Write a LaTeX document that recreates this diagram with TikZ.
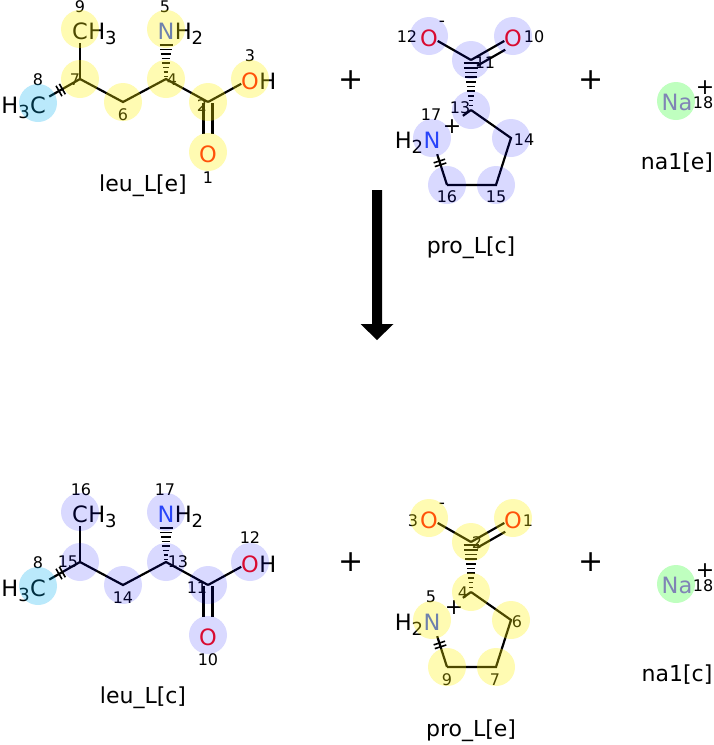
\documentclass[tikz,border=0pt]{standalone}
\usepackage{fontspec}
\setmainfont{DejaVu Sans}
\usetikzlibrary{calc}
\definecolor{Ocol}{HTML}{FF0D0D}
\definecolor{Ncol}{HTML}{3050F8}
\definecolor{Nacol}{HTML}{AB5CF2}
\newcommand\sbs[1]{\raisebox{-5pt}{\fontsize{18}{18}\selectfont #1}}
\tikzset{
  bond/.style={line width=2.2pt},
  hashl/.style={line width=1.6pt},
  atomt/.style={inner sep=0pt, font=\fontsize{22.5}{22.5}\selectfont},
  numt/.style={inner sep=0pt, font=\fontsize{16}{16}\selectfont},
  namet/.style={inner sep=0pt, font=\fontsize{22}{22}\selectfont},
  plust/.style={inner sep=0pt, font=\fontsize{30}{30}\selectfont},
  chgp/.style={inner sep=0pt, font=\fontsize{22}{22}\selectfont},
  chgm/.style={inner sep=0pt, font=\fontsize{17}{17}\selectfont},
  hly/.style={fill=yellow, fill opacity=0.3},
  hlb/.style={fill=blue, fill opacity=0.15},
  hlc/.style={fill=cyan, fill opacity=0.27},
  hlg/.style={fill=green, fill opacity=0.25},
}
\begin{document}
\begin{tikzpicture}[x=1pt,y=-1pt]
\useasboundingbox (0,0) rectangle (714,745);

% ================= TOP: leu_L[e] =================
\coordinate (L1) at (208,152);
\coordinate (L2) at (208,102);
\coordinate (L3) at (250,79);
\coordinate (L4) at (166,79);
\coordinate (L5) at (166,29);
\coordinate (L6) at (123,102);
\coordinate (L7) at (80,79);
\coordinate (L8) at (38,103);
\coordinate (L9) at (80,29);
\draw[bond] (L7) -- (L6) -- (L4) -- (L2);
\draw[bond, shorten >=14pt] (L7) -- (L9);
\draw[bond, shorten >=10pt] (L2) -- (L3);
\draw[bond, shorten <=13pt] (L8) -- (L7);
\draw[bond, shorten >=18pt, shorten <=1pt] ($(L2)+(-4.5,0)$) -- ($(L1)+(-4.5,0)$);
\draw[bond, shorten >=18pt, shorten <=1pt] ($(L2)+(4.5,0)$) -- ($(L1)+(4.5,0)$);
\foreach \k in {0,...,7}{
  \pgfmathsetmacro\dy{16+\k*4.5}
  \pgfmathsetmacro\hw{6.5-\k*0.7}
  \draw[hashl] ($(L5)+(-\hw,\dy)$) -- ($(L5)+(\hw,\dy)$);
}
\foreach \t in {0.5,0.58}{
  \coordinate (cm) at ($(L8)!\t!(L7)$);
  \draw[hashl] ($(cm)!6pt!90:(L7)$) -- ($(cm)!6pt!-90:(L7)$);
}
\node[atomt] (TL9) at (80,31) {C};
\node[atomt, anchor=base west] at (TL9.base east) {H\sbs{3}};
\node[atomt, text=Ncol] (TL5) at (166,31) {N};
\node[atomt, anchor=base west] at (TL5.base east) {H\sbs{2}};
\node[atomt, text=Ocol] (TL3) at (250,81) {O};
\node[atomt, anchor=base west] at (TL3.base east) {H};
\node[atomt, text=Ocol] (TL1) at (208,154) {O};
\node[atomt] (TL8) at (38,105) {C};
\node[atomt, anchor=base east] at (TL8.base west) {H\sbs{3}};
\node[numt] (nL1) at (208,178) {1};
\node[numt] (nL2) at (202,106) {2};
\node[numt] (nL3) at (250,56) {3};
\node[numt] (nL4) at (172,80) {4};
\node[numt] (nL5) at (165,7) {5};
\node[numt] (nL6) at (123,115) {6};
\node[numt] (nL7) at (75,80) {7};
\node[numt] (nL8) at (38,80) {8};
\node[numt] (nL9) at (80,7) {9};
\node[namet] (nmL) at (143,186) {leu\_L[e]};

% ================= TOP: pro_L[c] =================
\coordinate (P10) at (513,36);
\coordinate (P11) at (471,60);
\coordinate (P12) at (429,36);
\coordinate (P13) at (471,110);
\coordinate (P14) at (511,138);
\coordinate (P15) at (496,185);
\coordinate (P16) at (447,185);
\coordinate (P17) at (432,138);
\draw[bond, shorten <=10pt] (P12) -- (P11);
\draw[bond, shorten >=10pt] (P11) -- (P10);
\draw[bond] ($(P11)!0.05!(P10)+(4,7)$) -- ($(P11)!0.72!(P10)+(4,7)$);
\foreach \k in {0,...,9}{
  \pgfmathsetmacro\dy{3+\k*4.7}
  \pgfmathsetmacro\hw{7.5-\k*0.65}
  \draw[hashl] ($(P11)+(-\hw,\dy)$) -- ($(P11)+(\hw,\dy)$);
}
\draw[bond] (P13) -- (P14) -- (P15) -- (P16);
\draw[bond, shorten >=17pt] (P16) -- (P17);
\draw[bond] (P13) -- ($(P13)!10pt!(P17)$);
\foreach \t in {0.43,0.51}{
  \coordinate (cm) at ($(P16)!\t!(P17)$);
  \draw[hashl] ($(cm)!6pt!90:(P17)$) -- ($(cm)!6pt!-90:(P17)$);
}
\node[atomt, text=Ocol] (TP12) at (429,38) {O};
\node[atomt, text=Ocol] (TP10) at (513,38) {O};
\node[atomt, text=Ncol] (TP17) at (432,140) {N};
\node[atomt, anchor=base east] at (TP17.base west) {H\sbs{2}};
\node[chgm] (cP12) at (442,24) {-};
\node[chgp] (cP17) at (452,127) {+};
\node[numt] (nP10) at (534,37) {10};
\node[numt] (nP11) at (485,63) {11};
\node[numt] (nP12) at (407,37) {12};
\node[numt] (nP13) at (460,108) {13};
\node[numt] (nP14) at (524,140) {14};
\node[numt] (nP15) at (496,197) {15};
\node[numt] (nP16) at (447,197) {16};
\node[numt] (nP17) at (431,115) {17};
\node[namet] (nmP) at (471,248) {pro\_L[c]};

% ================= TOP: na1[e] =================
\coordinate (NA1) at (676,101);
\node[atomt, text=Nacol] (TNA1) at (677,102) {Na};
\node[chgp] (cNA1) at (705,88) {+};
\node[numt] (nNA1) at (703,103) {18};
\node[namet] (nmNA1) at (677,163) {na1[e]};

\node[plust] (plus1) at (351,80) {+};
\node[plust] (plus2) at (591,80) {+};

% ================= ARROW =================
\coordinate (arrS) at (377,190);
\coordinate (arrE) at (377,340);
\fill ($(arrS)+(-5,0)$) -- ($(arrS)+(5,0)$) -- ($(arrE)+(5,-16)$) -- ($(arrE)+(16.5,-16)$)
  -- (arrE) -- ($(arrE)+(-16.5,-16)$) -- ($(arrE)+(-5,-16)$) -- cycle;

% ================= BOTTOM: leu_L[c] =================
\coordinate (M10) at (208,635);
\coordinate (M11) at (208,585);
\coordinate (M12) at (250,562);
\coordinate (M13) at (166,562);
\coordinate (M17) at (166,512);
\coordinate (M14) at (123,585);
\coordinate (M15) at (80,562);
\coordinate (M8) at (38,586);
\coordinate (M16) at (80,512);
\draw[bond] (M15) -- (M14) -- (M13) -- (M11);
\draw[bond, shorten >=14pt] (M15) -- (M16);
\draw[bond, shorten >=10pt] (M11) -- (M12);
\draw[bond, shorten <=13pt] (M8) -- (M15);
\draw[bond, shorten >=18pt, shorten <=1pt] ($(M11)+(-4.5,0)$) -- ($(M10)+(-4.5,0)$);
\draw[bond, shorten >=18pt, shorten <=1pt] ($(M11)+(4.5,0)$) -- ($(M10)+(4.5,0)$);
\foreach \k in {0,...,7}{
  \pgfmathsetmacro\dy{16+\k*4.5}
  \pgfmathsetmacro\hw{6.5-\k*0.7}
  \draw[hashl] ($(M17)+(-\hw,\dy)$) -- ($(M17)+(\hw,\dy)$);
}
\foreach \t in {0.5,0.58}{
  \coordinate (cm) at ($(M8)!\t!(M15)$);
  \draw[hashl] ($(cm)!6pt!90:(M15)$) -- ($(cm)!6pt!-90:(M15)$);
}
\node[atomt] (TM16) at (80,514) {C};
\node[atomt, anchor=base west] at (TM16.base east) {H\sbs{3}};
\node[atomt, text=Ncol] (TM17) at (166,514) {N};
\node[atomt, anchor=base west] at (TM17.base east) {H\sbs{2}};
\node[atomt, text=Ocol] (TM12) at (250,564) {O};
\node[atomt, anchor=base west] at (TM12.base east) {H};
\node[atomt, text=Ocol] (TM10) at (208,637) {O};
\node[atomt] (TM8) at (38,588) {C};
\node[atomt, anchor=base east] at (TM8.base west) {H\sbs{3}};
\node[numt] (nM8) at (38,563) {8};
\node[numt] (nM10) at (208,660) {10};
\node[numt] (nM11) at (197,588) {11};
\node[numt] (nM12) at (250,538) {12};
\node[numt] (nM13) at (178,562) {13};
\node[numt] (nM14) at (123,598) {14};
\node[numt] (nM15) at (68,562) {15};
\node[numt] (nM16) at (81,490) {16};
\node[numt] (nM17) at (165,490) {17};
\node[namet] (nmM) at (143,698) {leu\_L[c]};

% ================= BOTTOM: pro_L[e] =================
\coordinate (Q1) at (513,518);
\coordinate (Q2) at (471,542);
\coordinate (Q3) at (429,518);
\coordinate (Q4) at (471,592);
\coordinate (Q6) at (511,620);
\coordinate (Q7) at (496,667);
\coordinate (Q9) at (447,667);
\coordinate (Q5) at (432,620);
\draw[bond, shorten <=10pt] (Q3) -- (Q2);
\draw[bond, shorten >=10pt] (Q2) -- (Q1);
\draw[bond] ($(Q2)!0.05!(Q1)+(4,7)$) -- ($(Q2)!0.72!(Q1)+(4,7)$);
\foreach \k in {0,...,9}{
  \pgfmathsetmacro\dy{3+\k*4.7}
  \pgfmathsetmacro\hw{7.5-\k*0.65}
  \draw[hashl] ($(Q2)+(-\hw,\dy)$) -- ($(Q2)+(\hw,\dy)$);
}
\draw[bond] (Q4) -- (Q6) -- (Q7) -- (Q9);
\draw[bond, shorten >=17pt] (Q9) -- (Q5);
\draw[bond] (Q4) -- ($(Q4)!10pt!(Q5)$);
\foreach \t in {0.43,0.51}{
  \coordinate (cm) at ($(Q9)!\t!(Q5)$);
  \draw[hashl] ($(cm)!6pt!90:(Q5)$) -- ($(cm)!6pt!-90:(Q5)$);
}
\node[atomt, text=Ocol] (TQ3) at (429,520) {O};
\node[atomt, text=Ocol] (TQ1) at (513,520) {O};
\node[atomt, text=Ncol] (TQ5) at (432,622) {N};
\node[atomt, anchor=base east] at (TQ5.base west) {H\sbs{2}};
\node[chgm] (cQ3) at (442,506) {-};
\node[chgp] (cQ5) at (454,608) {+};
\node[numt] (nQ1) at (528,521) {1};
\node[numt] (nQ2) at (477,543) {2};
\node[numt] (nQ3) at (413,521) {3};
\node[numt] (nQ4) at (463,593) {4};
\node[numt] (nQ5) at (431,597) {5};
\node[numt] (nQ6) at (517,622) {6};
\node[numt] (nQ7) at (495,680) {7};
\node[numt] (nQ9) at (447,680) {9};
\node[namet] (nmQ) at (471,731) {pro\_L[e]};

% ================= BOTTOM: na1[c] =================
\coordinate (NA2) at (676,584);
\node[atomt, text=Nacol] (TNA2) at (677,585) {Na};
\node[chgp] (cNA2) at (705,571) {+};
\node[numt] (nNA2) at (703,586) {18};
\node[namet] (nmNA2) at (677,675) {na1[c]};

\node[plust] (plus3) at (351,562) {+};
\node[plust] (plus4) at (591,562) {+};

% ================= HIGHLIGHTS (on top) =================
\foreach \a in {L1,L2,L3,L4,L5,L6,L7,L9}{\fill[hly] (\a) circle (19pt);}
\fill[hlc] (L8) circle (19pt);
\foreach \a in {P10,P11,P12,P13,P14,P15,P16,P17}{\fill[hlb] (\a) circle (19pt);}
\fill[hlg] (NA1) circle (19pt);
\foreach \a in {M10,M11,M12,M13,M14,M15,M16,M17}{\fill[hlb] (\a) circle (19pt);}
\fill[hlc] (M8) circle (19pt);
\foreach \a in {Q1,Q2,Q3,Q4,Q5,Q6,Q7,Q9}{\fill[hly] (\a) circle (19pt);}
\fill[hlg] (NA2) circle (19pt);
\end{tikzpicture}
\end{document}
